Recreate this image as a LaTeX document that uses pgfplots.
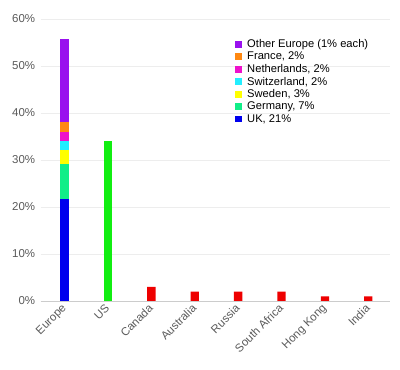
\documentclass[border=0pt]{standalone}
\usepackage{pgfplots}
\pgfplotsset{compat=1.18}
\usepackage{fontspec}
\setmainfont{Liberation Sans}
\definecolor{cUK}{HTML}{0000EE}
\definecolor{cDE}{HTML}{11EE88}
\definecolor{cSE}{HTML}{FFFF00}
\definecolor{cCH}{HTML}{22EEFF}
\definecolor{cNL}{HTML}{EE11CC}
\definecolor{cFR}{HTML}{FF8811}
\definecolor{cOT}{HTML}{9911EE}
\definecolor{cUS}{HTML}{11EE11}
\definecolor{cRD}{HTML}{EE0000}
\definecolor{tickgray}{HTML}{5A5A5A}
\begin{document}
\begin{tikzpicture}
\path[use as bounding box] (0,0) rectangle (400bp,370bp);
\begin{axis}[
  at={(40.7bp,69bp)}, anchor=south west,
  scale only axis, width=349.3bp, height=282bp,
  ybar stacked, bar width=8.3bp,
  xmin=-0.55, xmax=7.5, ymin=0, ymax=60,
  xtick={0,...,7},
  xticklabels={Europe,US,Canada,Australia,Russia,South Africa,Hong Kong,India},
  x tick label style={rotate=45, anchor=north east, font=\fontsize{11.5}{13}\selectfont, text=tickgray, inner sep=1pt, xshift=-3bp, yshift=2bp},
  ytick={0,10,...,60},
  yticklabel={\pgfmathprintnumber{\tick}\%},
  y tick label style={font=\fontsize{11.5}{13}\selectfont, text=tickgray, xshift=-2bp},
  /pgf/number format/assume math mode=true,
  major tick length=0pt,
  ymajorgrids, grid style={draw=black!7},
  axis x line*=bottom, axis y line*=left,
  x axis line style={draw=black!20, -},
  y axis line style={draw=none},
  every axis plot/.append style={draw=none},
  reverse legend,
  legend style={at={(rel axis cs:0.557,0.935)}, anchor=north west, draw=none, fill=none,
    font=\fontsize{11.2}{12.5}\selectfont, row sep=-1pt, inner sep=0pt,
    /tikz/every odd column/.append style={column sep=3pt},
    /tikz/every even column/.append style={column sep=0pt}},
  legend cell align=left,
  legend image code/.code={\fill[#1] (0bp,-3.4bp) rectangle (6.8bp,3.4bp);},
]
\addplot[fill=cUK] coordinates {(0,21.8) (1,0) (2,0) (3,0) (4,0) (5,0) (6,0) (7,0)};
\addlegendentry{UK, 21\%}
\addplot[fill=cDE] coordinates {(0,7.3) (1,0) (2,0) (3,0) (4,0) (5,0) (6,0) (7,0)};
\addlegendentry{Germany, 7\%}
\addplot[fill=cSE] coordinates {(0,3) (1,0) (2,0) (3,0) (4,0) (5,0) (6,0) (7,0)};
\addlegendentry{Sweden, 3\%}
\addplot[fill=cCH] coordinates {(0,2) (1,0) (2,0) (3,0) (4,0) (5,0) (6,0) (7,0)};
\addlegendentry{Switzerland, 2\%}
\addplot[fill=cNL] coordinates {(0,1.9) (1,0) (2,0) (3,0) (4,0) (5,0) (6,0) (7,0)};
\addlegendentry{Netherlands, 2\%}
\addplot[fill=cFR] coordinates {(0,2) (1,0) (2,0) (3,0) (4,0) (5,0) (6,0) (7,0)};
\addlegendentry{France, 2\%}
\addplot[fill=cOT] coordinates {(0,17.7) (1,0) (2,0) (3,0) (4,0) (5,0) (6,0) (7,0)};
\addlegendentry{Other Europe (1\% each)}
\addplot[fill=cUS, forget plot] coordinates {(0,0) (1,34) (2,0) (3,0) (4,0) (5,0) (6,0) (7,0)};
\addplot[fill=cRD, forget plot] coordinates {(0,0) (1,0) (2,3) (3,2) (4,2) (5,2) (6,1) (7,1)};
\end{axis}
\end{tikzpicture}
\end{document}
